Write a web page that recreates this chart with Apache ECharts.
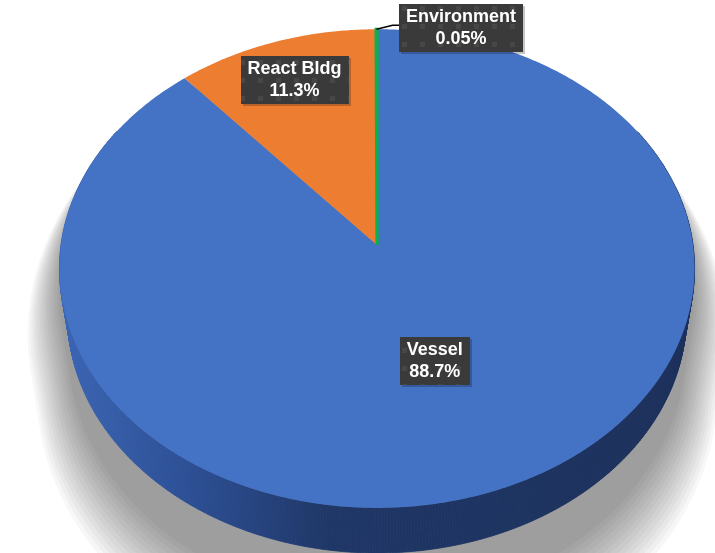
<!DOCTYPE html>
<html><head><meta charset="utf-8">
<script src="https://cdn.jsdelivr.net/npm/echarts@6/dist/echarts.min.js"></script>
<style>html,body{margin:0;padding:0;background:#fff}#c{width:715px;height:553px}</style>
</head><body><div id="c"></div>
<script>
// ---- data ----
const categories = ['Vessel', 'React Bldg', 'Environment'];
const values = [88.7, 11.3, 0.05];

// ---- styles ----
const topColors = ['#4472C4', '#ED7D31', '#0DB04B'];
const sideColors = [null, '#a4521c', '#00702f'];
const labelPlace = [{ r: 0.5 }, { r: 0.8 }, { outside: true, dx: 84.5, dy: -1 }];
const view = { cx: 377, cy: 245, K: 316, D: 6.71, sa: 0.75, ca: 0.661, H: 0.233 };
const shadowStyle = { anchorY: -60, sx0: 1.0, sx1: 1.1, sy0: 1.08, sy1: 1.2, layers: 14, alpha: 0.032 };
const FONT_FAMILY = '"Liberation Sans", Arial, sans-serif';
const FONT_SIZE = 18, LINE_H = 22, PAD_X = 7, PAD_Y = 2;

const total = values.reduce((a, b) => a + b, 0);
const starts = [];
(function () { let acc = 0; values.forEach(v => { starts.push(acc / total * 360); acc += v; }); })();

function proj(X, Y, Z) {
  const yc = Y * view.ca + Z * view.sa;
  const zc = view.D + Z * view.ca - Y * view.sa;
  return [view.cx + view.K * view.D * X / zc, view.cy - view.K * view.D * yc / zc];
}
function rim(deg, Y, r) {
  r = r == null ? 1 : r;
  const a = deg * Math.PI / 180;
  return proj(r * Math.sin(a), Y, r * Math.cos(a));
}
function arc(a0, a1, Y) {
  const n = Math.max(1, Math.ceil((a1 - a0) / 0.5));
  const p = [];
  for (let i = 0; i <= n; i++) p.push(rim(a0 + (a1 - a0) * i / n, Y));
  return p;
}
function hull(points) {
  const p = points.slice().sort((a, b) => a[0] - b[0] || a[1] - b[1]);
  const cross = (o, a, b) => (a[0] - o[0]) * (b[1] - o[1]) - (a[1] - o[1]) * (b[0] - o[0]);
  const lower = [], upper = [];
  for (const q of p) { while (lower.length >= 2 && cross(lower[lower.length - 2], lower[lower.length - 1], q) <= 0) lower.pop(); lower.push(q); }
  for (let i = p.length - 1; i >= 0; i--) { const q = p[i]; while (upper.length >= 2 && cross(upper[upper.length - 2], upper[upper.length - 1], q) <= 0) upper.pop(); upper.push(q); }
  upper.pop(); lower.pop();
  return lower.concat(upper);
}
function pctText(v) {
  const p = v / total * 100;
  return (p < 1 ? p.toFixed(2) : p.toFixed(1)) + '%';
}

// label background tile (dark grey with faint lighter squares)
const tile = document.createElement('canvas');
tile.width = 18; tile.height = 18;
(function () {
  const g = tile.getContext('2d');
  g.fillStyle = '#3a3a3a'; g.fillRect(0, 0, 18, 18);
  g.fillStyle = '#474747'; g.fillRect(6, 6, 5, 5);
})();
const measureCtx = document.createElement('canvas').getContext('2d');
measureCtx.font = 'bold ' + FONT_SIZE + 'px ' + FONT_FAMILY;
function textWidth(lines) { return Math.max.apply(null, lines.map(l => measureCtx.measureText(l).width)); }

const vesselSide = new echarts.graphic.LinearGradient(60, 0, 700, 0, [
  { offset: 0, color: '#3b65b5' },
  { offset: 0.2, color: '#2c4f95' },
  { offset: 0.42, color: '#1f3767' },
  { offset: 1, color: '#1b2f5a' }
], true);

const chart = echarts.init(document.getElementById('c'), null, { renderer: 'canvas' });
chart.setOption({
  animation: false,
  backgroundColor: '#ffffff',
  series: [{
    type: 'custom',
    coordinateSystem: 'none',
    data: values.map((v, i) => ({ name: categories[i], value: v })),
    renderItem: function (params, api) {
      const i = params.dataIndex;
      const v = api.value(0);
      const a0 = starts[i], a1 = a0 + v / total * 360;
      const children = [];
      if (i === 0) {
        const base = hull(arc(0, 360, 0).concat(arc(0, 360, -view.H)));
        const S = shadowStyle, L = S.layers;
        for (let j = 0; j < L; j++) {
          const t = j / (L - 1);
          const sx = S.sx0 + (S.sx1 - S.sx0) * t, sy = S.sy0 + (S.sy1 - S.sy0) * t;
          const pts = base.map(p => [view.cx + (p[0] - view.cx) * sx, S.anchorY + (p[1] - S.anchorY) * sy]);
          children.push({
            type: 'polygon', z2: -10, shape: { points: pts },
            style: { fill: 'rgba(0,0,0,' + S.alpha + ')' }
          });
        }
      }
      const top = arc(a0, a1, 0), bot = arc(a0, a1, -view.H);
      const n = top.length - 1;
      const sFill = i === 0 ? vesselSide : sideColors[i];
      for (let k = 0; k < n; k++) {
        const mid = (a0 + (a1 - a0) * (k + 0.5) / n) * Math.PI / 180;
        if (Math.cos(mid) > 0.5) continue;
        children.push({
          type: 'polygon', z2: 0,
          shape: { points: [top[k], top[k + 1], bot[k + 1], bot[k]] },
          style: { fill: sFill, stroke: sFill, lineWidth: 0.8 }
        });
      }
      const apex = proj(0, 0, 0);
      children.push({
        type: 'polygon', z2: 10 + i,
        shape: { points: [apex].concat(top) },
        style: i === 2 ? { fill: topColors[i], stroke: topColors[i], lineWidth: 3.2 } : { fill: topColors[i] }
      });
      const midDeg = (a0 + a1) / 2;
      const lp = labelPlace[i];
      let lx, ly;
      if (lp.outside) {
        const r0 = rim(midDeg, 0);
        children.push({
          type: 'polyline', z2: 25,
          shape: { points: [r0, [r0[0] + 16, r0[1] - 4], [r0[0] + 23, r0[1] - 4]] },
          style: { stroke: '#000', lineWidth: 1.5, fill: null }
        });
        lx = r0[0] + lp.dx; ly = r0[1] + lp.dy;
      } else {
        const p = rim(midDeg, 0, lp.r);
        lx = p[0]; ly = p[1];
      }
      const lines = [categories[i], pctText(v)];
      const bw = textWidth(lines) + 2 * PAD_X, bh = lines.length * LINE_H + 2 * PAD_Y;
      const bx = Math.round(lx - bw / 2), by = Math.round(ly - bh / 2);
      children.push({
        type: 'rect', z2: 28,
        shape: { x: bx + 2, y: by + 2, width: Math.round(bw), height: bh },
        style: { fill: 'rgba(0,0,0,0.22)' }
      });
      children.push({
        type: 'rect', z2: 29,
        shape: { x: bx, y: by, width: Math.round(bw), height: bh },
        style: { fill: { image: tile, repeat: 'repeat' } }
      });
      children.push({
        type: 'text', z2: 30, x: lx, y: ly,
        style: {
          text: lines.join('\n'),
          fill: '#ffffff', fontSize: FONT_SIZE, fontWeight: 'bold',
          fontFamily: FONT_FAMILY,
          align: 'center', verticalAlign: 'middle', lineHeight: LINE_H
        }
      });
      return { type: 'group', children: children };
    }
  }]
});
</script></body></html>
